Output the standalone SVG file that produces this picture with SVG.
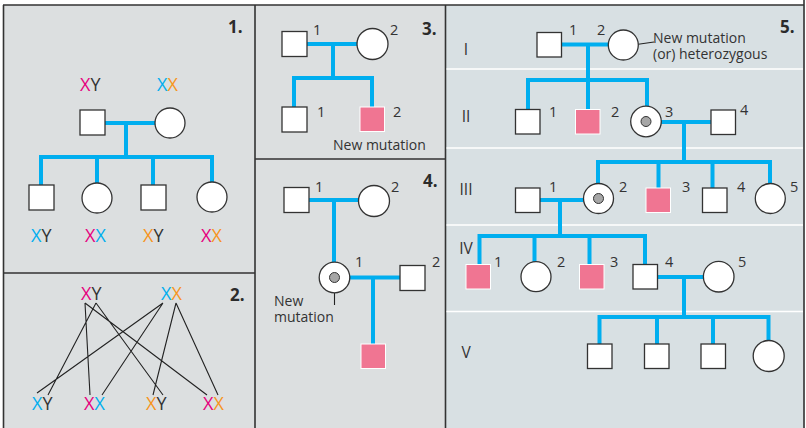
<svg xmlns="http://www.w3.org/2000/svg" width="806" height="428" viewBox="0 0 806 428">
<style>
text{font-family:"Open Sans","Noto Sans","Liberation Sans",sans-serif;fill:#333}
.n{font-size:14.5px}
.r{font-size:15.5px}
.lab{font-size:14px}
.h{font-size:17px;font-weight:bold;fill:#2b2b2b}
.g{font-size:18px}
.m{fill:#e6007e}.b{fill:#00aeef}.o{fill:#f7941d}
.sq{fill:#fff;stroke:#333;stroke-width:1.3}
.ci{fill:#fff;stroke:#333;stroke-width:1.3}
.aff{fill:#f07592;stroke:#fff;stroke-width:1}
.dot{fill:#a6a6a6;stroke:#333;stroke-width:1}
.bl{stroke:#00aeef;stroke-width:4;fill:none}
.thin{stroke:#222;stroke-width:1.1;fill:none}
.bd{stroke:#333;stroke-width:1.6;fill:none}
.sep{stroke:#fff;stroke-width:1.5}
</style>
<rect x="0" y="0" width="806" height="428" fill="#fff"/>
<rect x="3.5" y="5" width="442" height="423" fill="#dcdfe0"/>
<rect x="445.5" y="5" width="359" height="423" fill="#d8e0e3"/>
<g id="borders">
<path class="bd" d="M3 5H804.5M3.5 5V428M804 0V428M255 5V428M445.5 5V428M3.5 273H255M255 159H445.5"/>
<path class="sep" d="M446.5 69H803M446.5 148H803M446.5 225H803M446.5 311.5H803"/>
</g>
<g id="connectors">
<path class="bl" d="M105 123H155M126 123V157M39 157H214M41 157V185M97 157V183M153 157V185M212 157V182"/>
<path class="thin" d="M85 303L90 395M85 303L207 395M96 303L48 395M96 303L163 395M163 303L37 393M163 303L102 395M176 303L153 395M176 303L218 395"/>
<path class="bl" d="M307 44H357M333 44V78M292 78H374M294 78V107M372 78V107"/>
<path class="bl" d="M309 200H358.5M334 200V262M350 277.5H400M373 277.5V344"/>
<path class="thin" d="M334.5 293V305"/>
<path class="bl" d="M561.5 44.5H608M588 44.5V80M526 80H649M528 80V109.5M588 80V109.5M647 80V106"/>
<path class="bl" d="M661 122H711M684 122V162M596 162H772M598 162V183.5M658.5 162V188M712.5 162V188M770 162V183.5"/>
<path class="bl" d="M540 200H583.5M560 200V236M477.5 236H647M479.5 236V264.5M534.5 236V261.7M589.5 236V264.5M645 236V264.5"/>
<path class="bl" d="M657.5 277H703.5M684 277V317M597.5 317H770.5M599.5 317V344M657 317V344M713 317V344M768.5 317V340.5"/>
<path class="thin" d="M626 46L654 42"/>
</g>
<g id="panel1">
<text class="h" x="228" y="33">1.</text>
<text class="g" x="80" y="91"><tspan class="m">X</tspan>Y</text>
<text class="g" x="157" y="91"><tspan class="b">X</tspan><tspan class="o">X</tspan></text>
<g id="p1-father"><rect class="sq" x="80" y="110" width="25" height="25"/></g>
<g id="p1-mother"><circle class="ci" cx="170" cy="123" r="15"/></g>
<g id="p1-c1"><rect class="sq" x="29" y="185" width="25" height="25"/><text class="g" x="31" y="242"><tspan class="b">X</tspan>Y</text></g>
<g id="p1-c2"><circle class="ci" cx="97" cy="198" r="15"/><text class="g" x="85" y="242"><tspan class="m">X</tspan><tspan class="b">X</tspan></text></g>
<g id="p1-c3"><rect class="sq" x="141" y="185" width="25" height="25"/><text class="g" x="143" y="242"><tspan class="o">X</tspan>Y</text></g>
<g id="p1-c4"><circle class="ci" cx="212" cy="197" r="15"/><text class="g" x="201" y="242"><tspan class="m">X</tspan><tspan class="o">X</tspan></text></g>
</g>
<g id="panel2">
<text class="h" x="230" y="301">2.</text>
<g id="p2-father"><text class="g" x="81" y="300"><tspan class="m">X</tspan>Y</text></g>
<g id="p2-mother"><text class="g" x="161" y="300"><tspan class="b">X</tspan><tspan class="o">X</tspan></text></g>
<g id="p2-c1"><text class="g" x="32" y="410"><tspan class="b">X</tspan>Y</text></g>
<g id="p2-c2"><text class="g" x="84" y="410"><tspan class="m">X</tspan><tspan class="b">X</tspan></text></g>
<g id="p2-c3"><text class="g" x="146" y="410"><tspan class="o">X</tspan>Y</text></g>
<g id="p2-c4"><text class="g" x="203" y="410"><tspan class="m">X</tspan><tspan class="o">X</tspan></text></g>
</g>
<g id="panel3">
<text class="h" x="422" y="35">3.</text>
<g id="p3-I1"><rect class="sq" x="282" y="31.5" width="25" height="25"/><text class="n" x="313" y="35">1</text></g>
<g id="p3-I2"><circle class="ci" cx="372.5" cy="44" r="15.5"/><text class="n" x="390" y="35">2</text></g>
<g id="p3-II1"><rect class="sq" x="282" y="107" width="25" height="25"/><text class="n" x="317" y="117">1</text></g>
<g id="p3-II2"><rect class="aff" x="360" y="107" width="24.5" height="24.5"/><text class="n" x="393" y="117">2</text></g>
<text class="lab" x="333" y="150">New mutation</text>
</g>
<g id="panel4">
<text class="h" x="423" y="187">4.</text>
<g id="p4-I1"><rect class="sq" x="284" y="187.5" width="25" height="25"/><text class="n" x="315" y="192">1</text></g>
<g id="p4-I2"><circle class="ci" cx="374" cy="201" r="15.5"/><text class="n" x="391" y="192">2</text></g>
<g id="p4-II1"><circle class="ci" cx="334.5" cy="277.5" r="15.3"/><circle class="dot" cx="334.5" cy="277.5" r="5"/><text class="n" x="355" y="267">1</text></g>
<g id="p4-II2"><rect class="sq" x="400" y="265.5" width="25" height="25"/><text class="n" x="432" y="267">2</text></g>
<g id="p4-III1"><rect class="aff" x="361" y="344" width="24.5" height="24.5"/></g>
<text class="lab" x="274" y="305.5">New<tspan x="274" dy="16.5">mutation</tspan></text>
</g>
<g id="panel5">
<text class="h" x="780" y="33">5.</text>
<g text-anchor="middle">
<text class="r" x="466" y="55">I</text>
<text class="r" x="466" y="122">II</text>
<text class="r" x="466" y="195">III</text>
<text class="r" x="466" y="254">IV</text>
<text class="r" x="466" y="358">V</text>
</g>
<g id="p5-I1"><rect class="sq" x="537" y="32.5" width="24.5" height="24.5"/><text class="n" x="569" y="35">1</text></g>
<g id="p5-I2"><circle class="ci" cx="623.3" cy="45" r="15"/><text class="n" x="597" y="35">2</text></g>
<text class="lab" x="653" y="43">New mutation<tspan x="653" dy="16">(or) heterozygous</tspan></text>
<g id="p5-II1"><rect class="sq" x="515.5" y="109.5" width="24.5" height="24.5"/><text class="n" x="549" y="117">1</text></g>
<g id="p5-II2"><rect class="aff" x="575.5" y="109.5" width="24.5" height="24.5"/><text class="n" x="611" y="117">2</text></g>
<g id="p5-II3"><circle class="ci" cx="646" cy="121.5" r="15.3"/><circle class="dot" cx="646" cy="121.5" r="5"/><text class="n" x="665" y="117">3</text></g>
<g id="p5-II4"><rect class="sq" x="711" y="110" width="24.5" height="24.5"/><text class="n" x="740" y="115">4</text></g>
<g id="p5-III1"><rect class="sq" x="515.5" y="188" width="24.5" height="24.5"/><text class="n" x="549" y="192">1</text></g>
<g id="p5-III2"><circle class="ci" cx="598.5" cy="198.5" r="15"/><circle class="dot" cx="598.5" cy="198.5" r="5"/><text class="n" x="619" y="192">2</text></g>
<g id="p5-III3"><rect class="aff" x="646" y="188" width="24.5" height="24.5"/><text class="n" x="682" y="192">3</text></g>
<g id="p5-III4"><rect class="sq" x="702.5" y="188" width="24.5" height="24.5"/><text class="n" x="737" y="192">4</text></g>
<g id="p5-III5"><circle class="ci" cx="770.3" cy="198.5" r="15"/><text class="n" x="790" y="192">5</text></g>
<g id="p5-IV1"><rect class="aff" x="466" y="264.5" width="24.5" height="24.5"/><text class="n" x="494" y="267">1</text></g>
<g id="p5-IV2"><circle class="ci" cx="536" cy="276.7" r="15"/><text class="n" x="557" y="267">2</text></g>
<g id="p5-IV3"><rect class="aff" x="579.5" y="264.5" width="24.5" height="24.5"/><text class="n" x="610" y="267">3</text></g>
<g id="p5-IV4"><rect class="sq" x="633" y="264.5" width="24.5" height="24.5"/><text class="n" x="665" y="267">4</text></g>
<g id="p5-IV5"><circle class="ci" cx="718.7" cy="276.7" r="15.3"/><text class="n" x="738" y="267">5</text></g>
<g id="p5-V1"><rect class="sq" x="587.5" y="344" width="24.5" height="24.5"/></g>
<g id="p5-V2"><rect class="sq" x="644.5" y="344" width="24.5" height="24.5"/></g>
<g id="p5-V3"><rect class="sq" x="701" y="344" width="24.5" height="24.5"/></g>
<g id="p5-V4"><circle class="ci" cx="768.7" cy="356" r="15.5"/></g>
</g>
</svg>
